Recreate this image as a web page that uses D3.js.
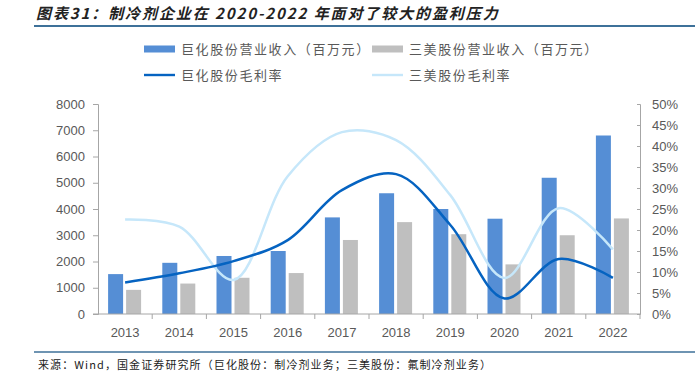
<html>
<head>
<meta charset="utf-8">
<style>
  body { margin: 0; background: #fff; }
  svg text { font-family: "Liberation Sans", Arial, sans-serif; }
  .cjk { font-family: "Noto Sans CJK SC", sans-serif; }
</style>
</head>
<body>
<div id="chart"></div>
<script src="https://cdn.jsdelivr.net/npm/d3@7"></script>
<script>
  // data
  const years = ["2013", "2014", "2015", "2016", "2017", "2018", "2019", "2020", "2021", "2022"]
  const juhuaRev = [1520, 1950, 2210, 2400, 3680, 4600, 4000, 3630, 5190, 6800]
  const sanmeiRev = [920, 1160, 1380, 1560, 2820, 3500, 3040, 1890, 3000, 3640]
  const juhuaGm = [7.5, 9.7, 12.6, 17.6, 29.5, 33.3, 21.2, 3.7, 13.1, 8.6]
  const sanmeiGm = [22.5, 20.8, 8.1, 32.8, 43.3, 41.4, 28.3, 8.6, 25.2, 15.4]
  const leftTicks = [0, 1000, 2000, 3000, 4000, 5000, 6000, 7000, 8000]
  const rightTicks = [0, 5, 10, 15, 20, 25, 30, 35, 40, 45, 50]

  const W = 695, H = 375
  const x0 = 98, x1 = 640, yTop = 104, yBot = 314
  const blue = "#558ED5", grey = "#BFBFBF", dark = "#0563C1", light = "#C6E7FA"
  const axisC = "#A6A6A6", textC = "#595959"

  const svg = d3.select("#chart").append("svg")
    .attr("width", W).attr("height", H)

  // title
  svg.append("text").attr("class", "cjk")
    .attr("x", 36).attr("y", 19)
    .attr("font-size", 15).attr("font-weight", "bold").attr("font-style", "italic")
    .attr("fill", "#222").attr("letter-spacing", 1.9)
    .text("图表31：制冷剂企业在 2020-2022 年面对了较大的盈利压力")
  svg.append("line").attr("x1", 34).attr("x2", W).attr("y1", 26).attr("y2", 26)
    .attr("stroke", "#3E7199").attr("stroke-width", 2)

  const x = d3.scaleBand().domain(years).range([x0, x1])
  const yL = d3.scaleLinear().domain([0, 8000]).range([yBot, yTop])
  const yR = d3.scaleLinear().domain([0, 50]).range([yBot, yTop])

  // left axis
  const gL = svg.append("g").attr("transform", `translate(${x0},0)`)
    .call(d3.axisLeft(yL).tickValues(leftTicks).tickSize(5).tickPadding(8)
      .tickFormat(d3.format("d")))
  // right axis
  const gR = svg.append("g").attr("transform", `translate(${x1},0)`)
    .call(d3.axisRight(yR).tickValues(rightTicks).tickSize(-3).tickPadding(12)
      .tickFormat(d => d + "%"))
  ;[gL, gR].forEach(g => {
    g.select(".domain").attr("stroke", axisC)
    g.selectAll(".tick line").attr("stroke", axisC)
    g.selectAll(".tick text").attr("fill", textC).attr("font-size", 13)
      .attr("font-family", "Liberation Sans, Arial, sans-serif")
  })

  // bars
  const bw = 15
  svg.append("g").selectAll("rect").data(juhuaRev).join("rect")
    .attr("x", (d, i) => x(years[i]) + x.bandwidth() / 2 - bw - 2)
    .attr("y", d => yL(d)).attr("width", bw).attr("height", d => yBot - yL(d))
    .attr("fill", blue)
  svg.append("g").selectAll("rect").data(sanmeiRev).join("rect")
    .attr("x", (d, i) => x(years[i]) + x.bandwidth() / 2 + 1)
    .attr("y", d => yL(d)).attr("width", bw).attr("height", d => yBot - yL(d))
    .attr("fill", grey)

  // x axis
  const gX = svg.append("g").attr("transform", `translate(0,${yBot})`)
  gX.append("line").attr("x1", x0 - 5).attr("x2", x1).attr("stroke", axisC)
  gX.selectAll(".tk").data(years.slice(1)).join("line").attr("class", "tk")
    .attr("x1", d => x(d)).attr("x2", d => x(d)).attr("y1", 0).attr("y2", 5)
    .attr("stroke", axisC)
  gX.append("line").attr("x1", x1).attr("x2", x1).attr("y1", 0).attr("y2", 5).attr("stroke", axisC)
  gX.selectAll("text").data(years).join("text")
    .attr("x", d => x(d) + x.bandwidth() / 2).attr("y", 23)
    .attr("text-anchor", "middle").attr("font-size", 13).attr("fill", textC)
    .text(d => d)

  // lines
  const line = d3.line()
    .x((d, i) => x(years[i]) + x.bandwidth() / 2)
    .y(d => yR(d))
    .curve(d3.curveCatmullRom.alpha(0.5))
  svg.append("path").attr("d", line(sanmeiGm)).attr("fill", "none")
    .attr("stroke", light).attr("stroke-width", 2.5)
  svg.append("path").attr("d", line(juhuaGm)).attr("fill", "none")
    .attr("stroke", dark).attr("stroke-width", 2.5)

  // legend
  const legend = [
    { t: "巨化股份营业收入（百万元）", c: blue, k: "bar", x: 144, y: 49 },
    { t: "三美股份营业收入（百万元）", c: grey, k: "bar", x: 372, y: 49 },
    { t: "巨化股份毛利率", c: dark, k: "line", x: 144, y: 75 },
    { t: "三美股份毛利率", c: light, k: "line", x: 372, y: 75 }
  ]
  const lg = svg.append("g").selectAll("g").data(legend).join("g")
    .attr("transform", d => `translate(${d.x},${d.y})`)
  lg.append("rect")
    .attr("x", 0).attr("width", 31)
    .attr("y", d => d.k == "bar" ? -3.5 : -1.2)
    .attr("height", d => d.k == "bar" ? 7 : 2.4)
    .attr("fill", d => d.c)
  lg.append("text").attr("class", "cjk")
    .attr("x", 37).attr("y", 0).attr("dy", "0.35em")
    .attr("font-size", 13).attr("fill", textC).attr("letter-spacing", 1.6)
    .text(d => d.t)

  // source
  svg.append("line").attr("x1", 34).attr("x2", W).attr("y1", 352).attr("y2", 352)
    .attr("stroke", "#3E7199").attr("stroke-width", 1.5)
  svg.append("text").attr("class", "cjk")
    .attr("x", 38).attr("y", 369).attr("font-size", 11).attr("fill", "#222")
    .attr("letter-spacing", 1.1)
    .text("来源：Wind，国金证券研究所（巨化股份：制冷剂业务；三美股份：氟制冷剂业务）")
</script>
</body>
</html>
